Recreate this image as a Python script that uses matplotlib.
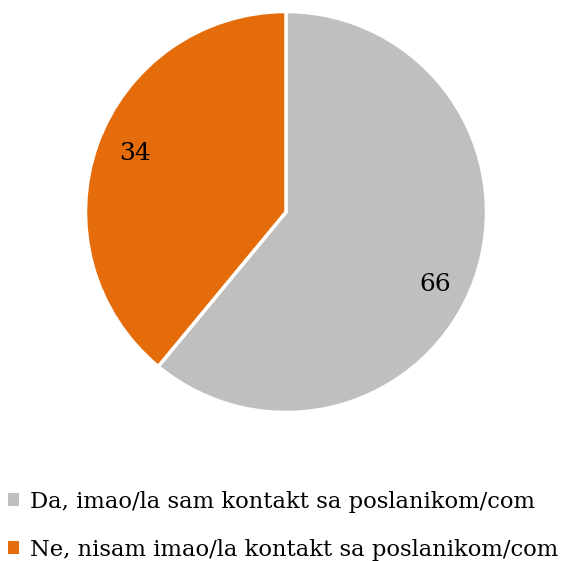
import matplotlib
matplotlib.use("Agg")
import matplotlib.pyplot as plt
from matplotlib.patches import Patch
import numpy as np

labels = ["Da, imao/la sam kontakt sa poslanikom/com",
          "Ne, nisam imao/la kontakt sa poslanikom/com"]
# slice sizes as drawn in the picture, and the numbers printed on them
shares = [61, 39]
data_labels = ["66", "34"]
colors = ["#BFBFBF", "#E46C0A"]
label_nudge = [(-0.02, -0.085), (0.01, 0.015)]

plt.rcParams["font.family"] = ["DejaVu Serif"]

fig = plt.figure(figsize=(5.73, 5.61), dpi=100)
ax = fig.add_axes([85.5 / 573, 148.5 / 561, 401 / 573, 401 / 561])

wedges, texts = ax.pie(shares, colors=colors, startangle=90, counterclock=False,
                       wedgeprops=dict(edgecolor="white", linewidth=2.5))
for w, t, (dx, dy) in zip(wedges, data_labels, label_nudge):
    ang = np.deg2rad((w.theta1 + w.theta2) / 2)
    ax.text(0.81 * np.cos(ang) + dx, 0.81 * np.sin(ang) + dy, t,
            ha="center", va="center", fontsize=18)
ax.set_xlim(-1, 1)
ax.set_ylim(-1, 1)
ax.set_aspect("equal")

handles = [Patch(facecolor=c, edgecolor="none") for c in colors]
fig.legend(handles, labels, loc="upper left", bbox_to_anchor=(0.014, 0.125),
           frameon=False, fontsize=16.3, handlelength=0.5, handleheight=0.5,
           handletextpad=0.45, labelspacing=1.15, borderaxespad=0, borderpad=0)

fig.savefig("out.png", dpi=100)
